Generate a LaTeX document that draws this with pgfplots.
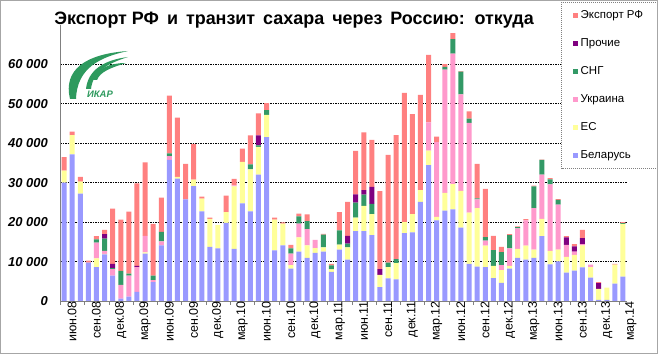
\documentclass[border=0pt]{standalone}
\usepackage{fontspec}
\setmainfont{Liberation Sans}
\usepackage{pgfplots}
\usepackage{pgfplotstable}
\pgfplotsset{compat=1.18}
\definecolor{cB}{HTML}{9999FF}
\definecolor{cE}{HTML}{FFFF99}
\definecolor{cU}{HTML}{FF99CC}
\definecolor{cS}{HTML}{339966}
\definecolor{cP}{HTML}{800080}
\definecolor{cR}{HTML}{FF8080}
\definecolor{logo}{HTML}{2E9A5E}

\pgfplotstableread{
x B E U S P R
0 30000 3000 0 0 0 3400
1 37100 4900 0 0 0 900
2 27200 3000 0 0 0 1200
3 9700 0 0 0 0 500
4 8600 2200 4000 800 0 800
5 11800 100 800 3100 1100 1100
6 6400 0 1700 200 1100 14000
7 600 0 3500 3500 0 13000
8 1100 0 5300 500 0 15700
9 2300 0 6300 0 300 20900
10 12000 300 4200 0 0 18600
11 4800 0 500 1100 0 13100
12 14100 0 1000 2400 0 8700
13 35700 0 1000 700 0 14600
14 31000 400 0 0 0 15000
15 25700 0 0 0 0 9000
16 29100 1600 0 0 0 9000
17 22700 3200 0 0 0 500
18 13700 7100 0 0 0 300
19 13300 5900 0 0 0 0
20 19800 2700 0 0 0 4200
21 13200 15800 300 0 0 1600
22 24700 10500 0 0 0 3400
23 22700 10600 0 1300 0 7300
24 32000 7000 0 400 2500 5600
25 41500 5600 0 1200 0 1800
26 12800 7800 0 0 0 500
27 14100 5500 0 0 0 300
28 8200 900 2900 1300 0 900
29 12500 3600 3500 1800 0 700
30 10900 3200 4100 2000 0 1700
31 12200 1200 2100 0 0 0
32 12500 1100 0 3200 0 200
33 7400 600 0 1000 0 400
34 13000 1300 0 3600 0 4600
35 10500 3100 0 900 2000 8600
36 17700 3400 0 3800 2100 11000
37 17700 6400 0 2800 1200 14600
38 16700 5300 0 2600 4300 11900
39 3500 3100 0 0 1500 19700
40 5700 2900 0 1100 0 27300
41 5500 4100 0 1000 0 31400
42 17200 2800 0 0 0 32700
43 17400 4600 0 0 0 25300
44 25100 3000 0 0 0 24100
45 34400 3700 7100 0 0 17100
46 20400 900 18900 0 0 1400
47 22900 4500 31200 700 0 700
48 23200 6400 33000 3700 0 1500
49 18600 9300 24400 5800 0 100
50 9400 13000 22700 1100 0 1800
51 8700 14800 2200 300 0 8700
52 8600 5400 1300 900 0 12200
53 5800 3100 0 4000 0 3600
54 4600 3200 1300 3300 0 1300
55 8200 700 4400 3400 0 200
56 10900 2300 5200 300 0 200
57 10500 3500 6400 0 0 300
58 10900 2100 10500 5500 0 200
59 16400 4400 11200 3700 0 100
60 9300 3400 16800 1300 0 300
61 10000 3000 11400 1200 0 200
62 7200 4000 3000 0 1900 300
63 7700 4000 800 0 1300 600
64 8500 5600 300 0 1500 2100
65 5900 2700 600 0 0 0
66 300 2800 0 0 1400 300
67 300 3100 0 0 0 0
68 4400 4800 0 0 0 200
69 6200 13300 0 200 0 300
}\data

\begin{document}
\begin{tikzpicture}
\useasboundingbox (0,0) rectangle (658bp,354bp);
\fill[white] (0,0) rectangle (658bp,354bp);
\begin{axis}[
  at={(60bp,53bp)}, anchor=south west,
  scale only axis, width=567bp, height=276.5bp,
  ybar stacked, bar width=5bp,
  xmin=-0.5, xmax=69.5, ymin=0, ymax=70000,
  axis x line*=bottom, axis y line*=left,
  axis line style={draw=gray, -},
  ytick={0,10000,20000,30000,40000,50000,60000},
  yticklabels={},
  scaled y ticks=false,
  ytick style={draw=none},
  ymajorgrids,
  grid style={black, line width=0.5pt, dash pattern=on 1.5bp off 1bp},
  xtick={0,3,...,69},
  xticklabels={июн.08,сен.08,дек.08,мар.09,июн.09,сен.09,дек.09,мар.10,июн.10,сен.10,дек.10,мар.11,июн.11,сен.11,дек.11,мар.12,июн.12,сен.12,дек.12,мар.13,июн.13,сен.13,дек.13,мар.14},
  xtick style={draw=none},
  xticklabel style={rotate=90, anchor=east, inner sep=0pt, yshift=-8bp, font=\fontsize{12.5}{14}\selectfont},
  extra x ticks={-0.5,2.5,...,68.5},
  extra x tick labels={},
  extra x tick style={xtick style={draw=gray}, xtick align=outside, major tick length=4bp},
  legend image code/.code={\fill[#1] (0bp,-2.5bp) rectangle (5bp,2.5bp);},
  reverse legend,
  legend cell align=left,
  legend style={at={(0.8836,1.0814)}, anchor=north west, draw=none,
    fill=white, font=\fontsize{11.5}{13}\selectfont, inner xsep=12bp, inner ysep=8bp, row sep=17.6bp,
    nodes={text height=8bp, text depth=2.5bp, inner ysep=0bp, inner xsep=2.5bp}},
]
\addplot[fill=cB, draw=none] table[x=x, y=B] {\data};
\addlegendentry{Беларусь}
\addplot[fill=cE, draw=none] table[x=x, y=E] {\data};
\addlegendentry{ЕС}
\addplot[fill=cU, draw=none] table[x=x, y=U] {\data};
\addlegendentry{Украина}
\addplot[fill=cS, draw=none] table[x=x, y=S] {\data};
\addlegendentry{СНГ}
\addplot[fill=cP, draw=none] table[x=x, y=P] {\data};
\addlegendentry{Прочие}
\addplot[fill=cR, draw=none] table[x=x, y=R] {\data};
\addlegendentry{Экспорт РФ}
\end{axis}
\begin{scope}[shift={(0bp,354bp)}, x=1bp, y=-1bp]
  \draw[gray, dash pattern=on 1bp off 1bp] (561.5,2) rectangle (662,168.5);
  \node[font=\bfseries\fontsize{18}{21}\selectfont, anchor=base] at (294,25) {Экспорт РФ\, и\, транзит\, сахара\, через\, Россию:\, откуда};
  \foreach \v/\t in {0/0,1/10 000,2/20 000,3/30 000,4/40 000,5/50 000,6/60 000}
    \node[font=\bfseries\itshape\fontsize{13}{15}\selectfont, anchor=base east, inner sep=0pt] at (48,{301-39.5*\v+4.7}) {\t};
  \fill[logo] (70,99) .. controls (63,70) and (85,54) .. (128,51) .. controls (100,57) and (77,68) .. (76,99) -- cycle;
  \fill[logo] (86,89) .. controls (88,70) and (104,60) .. (128,57) .. controls (106,64) and (93,72) .. (91,89) -- cycle;
  \fill[logo] (93,80) .. controls (97,68) and (110,63) .. (126,63) .. controls (110,68) and (100,72) .. (97,80) -- cycle;
  \node[font=\bfseries\itshape\fontsize{9.5}{11}\selectfont, text=logo, anchor=base] at (100,98) {ИКАР};
\end{scope}
\draw[gray!70] (0.5bp,0.5bp) rectangle (657.5bp,353.5bp);
\end{tikzpicture}
\end{document}
